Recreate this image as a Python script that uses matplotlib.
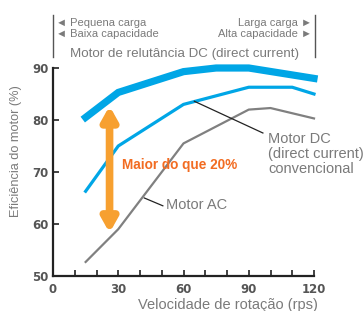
import matplotlib
matplotlib.use("Agg")
import matplotlib.pyplot as plt
from matplotlib import font_manager

# data
x_srm = [15, 30, 60, 75, 90, 120]
y_srm = [80.5, 85.3, 89.3, 90.0, 90.0, 88.0]
x_dc = [15, 30, 60, 90, 110, 120]
y_dc = [66.3, 75.0, 83.0, 86.3, 86.3, 85.0]
x_ac = [15, 30, 60, 90, 100, 120]
y_ac = [52.7, 59.0, 75.5, 82.0, 82.3, 80.3]
xticks = [0, 30, 60, 90, 120]
yticks = [50, 60, 70, 80, 90]

names = {f.name for f in font_manager.fontManager.ttflist}
FONT = "Liberation Sans Narrow" if "Liberation Sans Narrow" in names else "Liberation Sans"
plt.rcParams["font.family"] = [FONT, "DejaVu Sans"]

BLUE = "#00a6e6"
GRAY = "#808080"
TXT = "#7a7a7a"

fig = plt.figure(figsize=(3.63, 3.11), dpi=100)
ax = fig.add_axes([53 / 363, 35 / 311, 261 / 363, 208 / 311])

ax.plot(x_srm, y_srm, color=BLUE, lw=5.2, solid_joinstyle="miter", clip_on=False)
ax.plot(x_dc, y_dc, color=BLUE, lw=2.3, clip_on=False)
ax.plot(x_ac, y_ac, color=GRAY, lw=1.6, clip_on=False)

ax.set_xlim(0, 120)
ax.set_ylim(50, 90)
ax.set_xticks(xticks)
ax.set_xticks(range(0, 121, 10), minor=True)
ax.set_yticks(yticks)
for s in ("top", "right"):
    ax.spines[s].set_visible(False)
for s in ("left", "bottom"):
    ax.spines[s].set_linewidth(1.6)
    ax.spines[s].set_color("#222222")
ax.tick_params(axis="x", direction="in", length=4, width=1.2, color="#222222", pad=5)
ax.tick_params(axis="y", direction="in", length=4, width=1.2, color="#222222", pad=3)
ax.tick_params(which="minor", direction="in", length=4, width=1.2, color="#222222")
for lab in ax.get_xticklabels() + ax.get_yticklabels():
    lab.set_fontweight("bold")
    lab.set_family("DejaVu Sans")
    lab.set_fontsize(8.5)
    lab.set_color("#555555")

ax.set_xlabel("Velocidade de rotação (rps)", fontsize=10.5, color=TXT, labelpad=0)
ax.xaxis.set_label_coords(0.67, -0.105)
ax.set_ylabel("Eficiência do motor (%)", fontsize=9.2, color=TXT)
ax.yaxis.set_label_coords(-0.118, 0.6)

# orange double arrow
ax.annotate("", xy=(26, 58.3), xytext=(26, 82.7),
            arrowprops=dict(arrowstyle="<|-|>,head_length=0.8,head_width=0.45",
                            color="#f7a030", lw=5.5, shrinkA=0, shrinkB=0))
ax.text(31.5, 71.3, "Maior do que 20%", color="#f26c22", fontsize=9.8,
        fontweight="bold", va="center", ha="left")

# leader lines and labels
ax.plot([65, 96.5], [83.6, 77.5], color="#222222", lw=0.9)
ax.text(99, 77.6, "Motor DC\n(direct current)\nconvencional", color=TXT,
        fontsize=10.5, va="top", ha="left", linespacing=1.05)
ax.plot([42, 50.5], [65.0, 63.5], color="#222222", lw=0.9)
ax.text(52, 63.7, "Motor AC", color=TXT, fontsize=10.5, va="center", ha="left")

# header above the plot
tr = fig.transFigure
fig.add_artist(plt.Line2D([53 / 363, 53 / 363], [1 - 15 / 311, 1 - 57 / 311],
                          transform=tr, color="#555555", lw=1))
fig.add_artist(plt.Line2D([315 / 363, 315 / 363], [1 - 15 / 311, 1 - 57 / 311],
                          transform=tr, color="#555555", lw=1))
hdr = dict(color=TXT, fontsize=8, va="center", family=[FONT, "DejaVu Sans"])
fig.text(56 / 363, 1 - 23 / 311, "◄ Pequena carga", ha="left", **hdr)
fig.text(56 / 363, 1 - 34 / 311, "◄ Baixa capacidade", ha="left", **hdr)
fig.text(312 / 363, 1 - 23 / 311, "Larga carga ►", ha="right", **hdr)
fig.text(312 / 363, 1 - 34 / 311, "Alta capacidade ►", ha="right", **hdr)
fig.text(185 / 363, 1 - 54 / 311, "Motor de relutância DC (direct current)",
         color=TXT, fontsize=9.6, va="center", ha="center")

fig.savefig("out.png", dpi=100)
